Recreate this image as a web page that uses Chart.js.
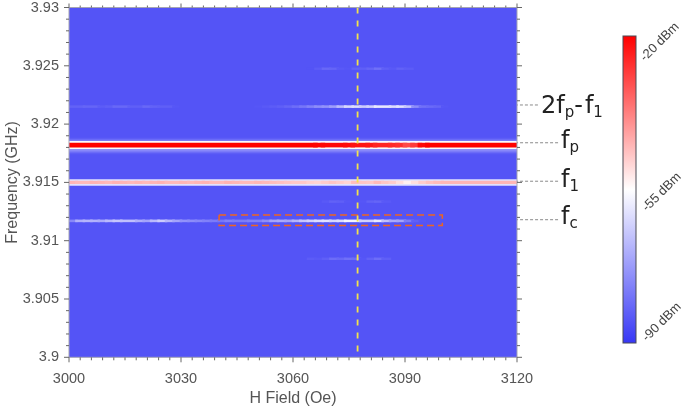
<!DOCTYPE html>
<html>
<head>
<meta charset="utf-8">
<style>html,body{margin:0;padding:0;background:#fff}#w{position:relative;width:685px;height:410px}canvas{display:block}</style>
<script src="https://cdn.jsdelivr.net/npm/chart.js@4"></script>
</head>
<body>
<div id="w"><canvas id="c" width="685" height="410"></canvas></div>
<script>
// Field samples shared by the long traces: 3000 to 3120 Oe in 2 Oe steps
const fieldSamples = [3000,3002,3004,3006,3008,3010,3012,3014,3016,3018,3020,3022,3024,3026,3028,3030,3032,3034,3036,3038,3040,3042,3044,3046,3048,3050,3052,3054,3056,3058,3060,3062,3064,3066,3068,3070,3072,3074,3076,3078,3080,3082,3084,3086,3088,3090,3092,3094,3096,3098,3100,3102,3104,3106,3108,3110,3112,3114,3116,3118,3120];
const pumpFreq = 3.9182, signalFreq = 3.915, combFreq = 3.9117, imFreq = 3.9215;
const pumpDbm = [-20,-20,-20,-20,-20,-20,-20,-20,-20,-20,-20,-20,-20,-20,-20,-20,-20,-20,-20,-20,-20,-20,-20,-20,-20,-20,-20,-20,-20,-20,-20,-20,-20,-20,-21,-21,-21,-21,-22,-23,-22,-24,-26,-24,-27,-26,-34,-22,-20,-20,-20,-20,-20,-20,-20,-20,-20,-20,-20,-20,-20];
const signalDbm = [-45,-45,-46,-45,-44,-46,-45,-44,-46,-45,-45,-46,-44,-45,-46,-45,-45,-46,-44,-45,-46,-45,-44,-46,-45,-46,-44,-47,-45,-48,-46,-49,-46,-51,-47,-49,-45,-51,-47,-45,-49,-46,-45,-49,-47,-54,-52,-49,-47,-46,-45,-45,-45,-45,-45,-45,-45,-45,-45,-45,-45];
const combDbm = [-80,-72,-66,-70,-67,-72,-62,-68,-64,-68,-70,-72,-62,-66,-70,-72,-76,-74,-78,-76,-80,-78,-76,-80,-76,-78,-76,-74,-68,-72,-70,-66,-64,-62,-60,-60,-64,-58,-56,-58,-68,-58,-60,-72,-68,-74,-82,-84,-85,-85,-85,-85,-85,-85,-85,-85,-85,-85,-85,-85,-85];
const imDbm = [-83,-82,-83,-81,-83,-84,-82,-81,-82,-84,-82,-81,-84,-82,-84,-85,-85,-85,-85,-85,-85,-85,-85,-85,-85,-85,-84,-84,-83,-83,-81,-80,-78,-76,-74,-74,-70,-64,-60,-62,-66,-60,-58,-60,-62,-58,-72,-78,-82,-80,-84,-85,-85,-85,-85,-85,-85,-85,-85,-85,-85];
// Faint short traces
const upperField = [3064,3066,3068,3070,3072,3074,3076,3078,3080,3082,3084,3086,3088,3090,3092];
const upperDbm = [-85,-85,-82,-81,-83,-85,-84,-81,-85,-79,-81,-85,-83,-82,-85];
const upperFreq = 3.92475;
const lowerField = [3064,3066,3068,3070,3072,3074,3076,3078,3080,3082,3084,3086];
const lowerDbm = [-84,-83,-85,-81,-80,-83,-77,-84,-85,-80,-81,-85];
const lowerFreq = 3.90845;
const midField = [3068,3070,3072,3074,3076,3078,3080,3082,3084,3086];
const midDbm = [-85,-83,-82,-84,-85,-85,-84,-81,-83,-85];
const midFreq = 3.91335;
// Markers
const markerField = 3077.3;
const boxField = [3040.2,3100,3100,3040.2,3040.2];
const boxFreq = [3.9122,3.9122,3.9113,3.9113,3.9122];
const leaderField = [3131,3120];
const leaderShortField = [3125.6,3120];
const leaderFreqs = [3.92164,3.9184,3.9151,3.9118];
const colorbarDbm = [-20,-55,-90];
const backgroundDbm = -85;

function dbmColor(v){
  const low=[55,55,245], mid=[255,255,255], high=[255,0,0];
  let a,b,t;
  if(v<=-55){a=low;b=mid;t=(v+90)/35;} else {a=mid;b=high;t=(v+55)/35;}
  t=Math.max(0,Math.min(1,t));
  return 'rgb('+a.map((x,i)=>Math.round(x+(b[i]-x)*t)).join(',')+')';
}
function trace(xs,freq,vals,width,blur){
  return {type:'line',data:xs.map(x=>({x:x,y:freq})),borderWidth:width,pointRadius:0,borderCapStyle:'square',tension:0,blur:blur,
    borderColor:dbmColor(vals[0]),segment:{borderColor:c=>dbmColor((vals[c.p0DataIndex]+vals[c.p1DataIndex])/2)}};
}
function flat(xs,freq,dbm,width,blur){return trace(xs,freq,xs.map(()=>dbm),width,blur);}
function dashed(pts,color,width,dash,clip){
  return {type:'line',data:pts,borderColor:color,borderWidth:width,borderDash:dash,pointRadius:0,tension:0,clip:clip,borderCapStyle:'butt'};
}
// listed in paint order; Chart.js paints the first dataset last, hence the reverse below
const datasets=[
  flat(fieldSamples,pumpFreq-0.00008,-74,12,1.4),
  flat(fieldSamples,pumpFreq,-56,8,0.7),
  trace(fieldSamples,pumpFreq,pumpDbm,4.6,0.5),
  flat(fieldSamples,signalFreq,-60,6.5,0.7),
  trace(fieldSamples,signalFreq,signalDbm,3.2,0.5),
  trace(fieldSamples,combFreq,combDbm,2.6,0.7),
  trace(fieldSamples,imFreq,imDbm,2.6,0.7),
  trace(upperField,upperFreq,upperDbm,2.4,0.7),
  trace(lowerField,lowerFreq,lowerDbm,2.4,0.7),
  trace(midField,midFreq,midDbm,2.4,0.7),
  dashed(boxField.map((x,i)=>({x:x,y:boxFreq[i]})),'#f0641e',1.5,[7,4],false),
  dashed([{x:markerField,y:3.93},{x:markerField,y:3.9}],'#f2e34a',1.8,[6,7],true),
  dashed(leaderShortField.map(x=>({x:x,y:leaderFreqs[0]})),'#8a8a8a',1,[3,2],false),
  dashed(leaderField.map(x=>({x:x,y:leaderFreqs[1]})),'#8a8a8a',1,[3,2],false),
  dashed(leaderField.map(x=>({x:x,y:leaderFreqs[2]})),'#8a8a8a',1,[3,2],false),
  dashed(leaderField.map(x=>({x:x,y:leaderFreqs[3]})),'#8a8a8a',1,[3,2],false)
].reverse();
function rich(ctx,x,y,parts){
  parts.forEach(p=>{
    ctx.font=(p[1]?'15px':'24px')+' "DejaVu Sans"';
    ctx.fillText(p[0],x,p[1]?y+4:y);
    x+=ctx.measureText(p[0]).width+(p[2]||0);
  });
}
const decor={
  id:'decor',
  beforeDatasetsDraw(ch){
    const a=ch.chartArea,c=ch.ctx;
    c.save();c.fillStyle=dbmColor(backgroundDbm);c.fillRect(a.left,a.top,a.right-a.left,a.bottom-a.top);c.restore();
  },
  beforeDatasetDraw(ch,args){
    const d=ch.data.datasets[args.index];
    if(d.blur){ch.ctx.filter='blur('+d.blur+'px)';}
  },
  afterDatasetDraw(ch){ch.ctx.filter='none';},
  afterDraw(ch){
    const a=ch.chartArea,c=ch.ctx,X=ch.scales.x,Y=ch.scales.y;
    c.save();
    c.strokeStyle='#a4a4b4';c.lineWidth=1;c.strokeRect(a.left,a.top,a.right-a.left,a.bottom-a.top);
    c.strokeStyle='#666';c.beginPath();
    X.ticks.forEach(t=>{
      const p=X.getPixelForValue(t.value),mj=t.value%30===0;
      c.moveTo(p,a.top);c.lineTo(p,a.top-(mj?4:2));
      c.moveTo(p,a.bottom);c.lineTo(p,a.bottom+(mj?5:3));
    });
    Y.ticks.forEach(t=>{
      const p=Y.getPixelForValue(t.value),mj=Math.round(t.value*1000)%5===0;
      c.moveTo(a.left,p);c.lineTo(a.left-(mj?5:3),p);
      c.moveTo(a.right,p);c.lineTo(a.right+(mj?5:3),p);
    });
    c.stroke();
    c.fillStyle='#222';c.textAlign='left';c.textBaseline='alphabetic';
    rich(c,541,113,[['2f'],['p',1,0],['-',0,2],['f'],['1',1]]);
    rich(c,561,148,[['f'],['p',1]]);
    rich(c,561,187,[['f'],['1',1]]);
    rich(c,561,224,[['f'],['c',1]]);
    const bx=623,by=36,bw=13,bh=307;
    const g=c.createLinearGradient(0,by,0,by+bh);
    colorbarDbm.forEach((v,i)=>g.addColorStop(i/2,dbmColor(v)));
    c.fillStyle=g;c.fillRect(bx,by,bw,bh);
    c.strokeStyle='#4a4a55';c.lineWidth=1;c.strokeRect(bx,by,bw,bh);
    c.fillStyle='#444';c.font='13px "Liberation Sans"';
    colorbarDbm.forEach((v,i)=>{
      c.save();c.translate(i===0?645:647,[62,212,342][i]);c.rotate(-Math.PI/4);
      c.fillText(v+' dBm',0,0);c.restore();
    });
    c.restore();
  }
};
new Chart(document.getElementById('c'),{
  type:'line',
  data:{datasets:datasets},
  plugins:[decor],
  options:{
    responsive:false,animation:false,
    layout:{padding:{left:0,top:7.5,right:168,bottom:0}},
    plugins:{legend:{display:false},tooltip:{enabled:false}},
    scales:{
      x:{type:'linear',min:3000,max:3120,
        afterFit:s=>{s.height=52.7;s.paddingLeft=0;s.paddingRight=0;},
        border:{display:false},
        grid:{display:false,drawTicks:false},
        ticks:{stepSize:3,autoSkip:false,maxRotation:0,padding:13,color:'#555',font:{family:'"Liberation Sans"',size:14.5},
          callback:v=>v%30===0?String(v):''},
        title:{display:true,text:'H Field (Oe)',color:'#555',font:{family:'"Liberation Sans"',size:16},padding:{top:0,bottom:2}}},
      y:{type:'linear',min:3.9,max:3.93,
        afterFit:s=>{s.width=69;s.paddingTop=0;s.paddingBottom=0;},
        border:{display:false},
        grid:{display:false,drawTicks:false},
        ticks:{stepSize:0.001,autoSkip:false,padding:10,color:'#555',font:{family:'"Liberation Sans"',size:14.5},
          callback:v=>{const m=Math.round(v*1000);return m%5===0?String(m/1000):'';}},
        title:{display:true,text:'Frequency (GHz)',color:'#555',font:{family:'"Liberation Sans"',size:16},padding:{top:3,bottom:0}}}
    }
  }
});
</script>
</body>
</html>
